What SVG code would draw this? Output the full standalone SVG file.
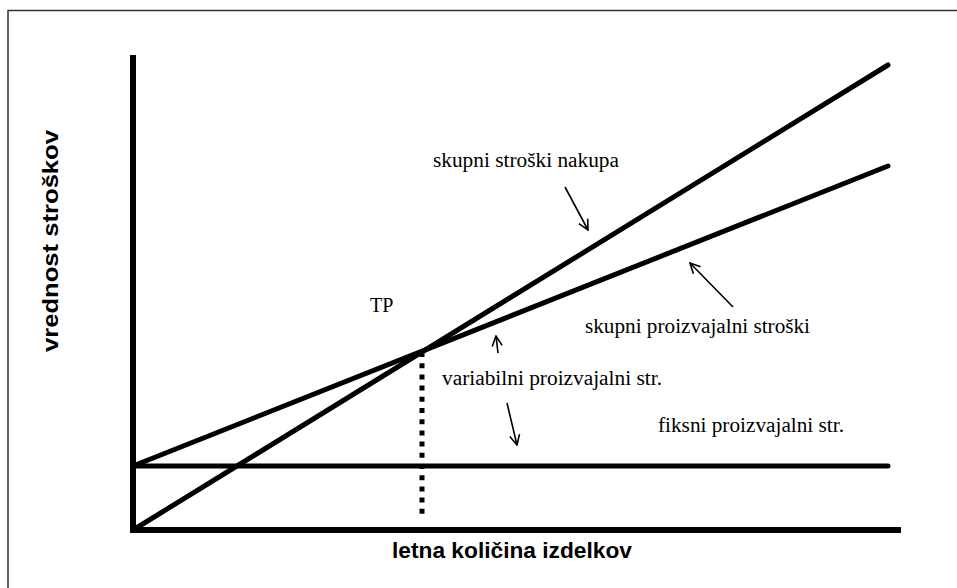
<svg xmlns="http://www.w3.org/2000/svg" width="957" height="588" viewBox="0 0 957 588">
  <style>
    .axis { stroke: #000; stroke-width: 6; fill: none; }
    .curve { stroke: #000; stroke-width: 5; fill: none; stroke-linecap: round; }
    .pointer { stroke: #000; stroke-width: 1.6; fill: none; marker-end: url(#head); }
    .lbl { font-family: "Liberation Serif", "Times New Roman", serif; font-size: 20px; fill: #000; }
    .axlbl { font-family: "Liberation Sans", Arial, sans-serif; font-size: 22px; font-weight: bold; fill: #000; }
  </style>
  <defs>
    <marker id="head" viewBox="0 0 12 12" refX="11" refY="6" markerWidth="12" markerHeight="12" markerUnits="userSpaceOnUse" orient="auto">
      <path d="M1,1 L11,6 L1,11" fill="none" stroke="#000" stroke-width="1.6"/>
    </marker>
  </defs>

  <!-- outer frame -->
  <g id="frame">
    <path d="M8,588 V10.5 H957" fill="none" stroke="#333" stroke-width="1.5"/>
  </g>

  <!-- axes -->
  <g id="axes">
    <line class="axis" x1="133" y1="55" x2="133" y2="533"/>
    <line class="axis" x1="130" y1="530" x2="901" y2="530"/>
  </g>

  <!-- cost lines and pointers -->
  <g id="connectors">
    <line id="fixed" class="curve" x1="133" y1="466" x2="888" y2="466"/>
    <line id="production" class="curve" x1="133" y1="466" x2="888" y2="166"/>
    <line id="purchase" class="curve" x1="133" y1="530" x2="888" y2="65"/>
    <line id="tp-drop" x1="422" y1="352" x2="422" y2="516" stroke="#000" stroke-width="5" stroke-dasharray="5 6.2"/>
    <line class="pointer" x1="565" y1="187" x2="588" y2="230"/>
    <line class="pointer" x1="733" y1="307" x2="690" y2="263"/>
    <line class="pointer" x1="498" y1="353" x2="496" y2="336"/>
    <line class="pointer" x1="507" y1="403" x2="517" y2="445"/>
  </g>

  <!-- labels -->
  <g id="label-purchase"><text class="lbl" x="433" y="167" textLength="186" lengthAdjust="spacingAndGlyphs">skupni stroški nakupa</text></g>
  <g id="label-production"><text class="lbl" x="585" y="333" textLength="225" lengthAdjust="spacingAndGlyphs">skupni proizvajalni stroški</text></g>
  <g id="label-variable"><text class="lbl" x="442" y="385" textLength="220" lengthAdjust="spacingAndGlyphs">variabilni proizvajalni str.</text></g>
  <g id="label-fixed"><text class="lbl" x="658" y="432" textLength="186" lengthAdjust="spacingAndGlyphs">fiksni proizvajalni str.</text></g>
  <g id="label-tp"><text class="lbl" x="370" y="312">TP</text></g>
  <g id="label-x"><text class="axlbl" x="392" y="558" textLength="240" lengthAdjust="spacingAndGlyphs">letna količina izdelkov</text></g>
  <g id="label-y"><text class="axlbl" transform="translate(58,352) rotate(-90)" textLength="222" lengthAdjust="spacingAndGlyphs">vrednost stroškov</text></g>
</svg>
